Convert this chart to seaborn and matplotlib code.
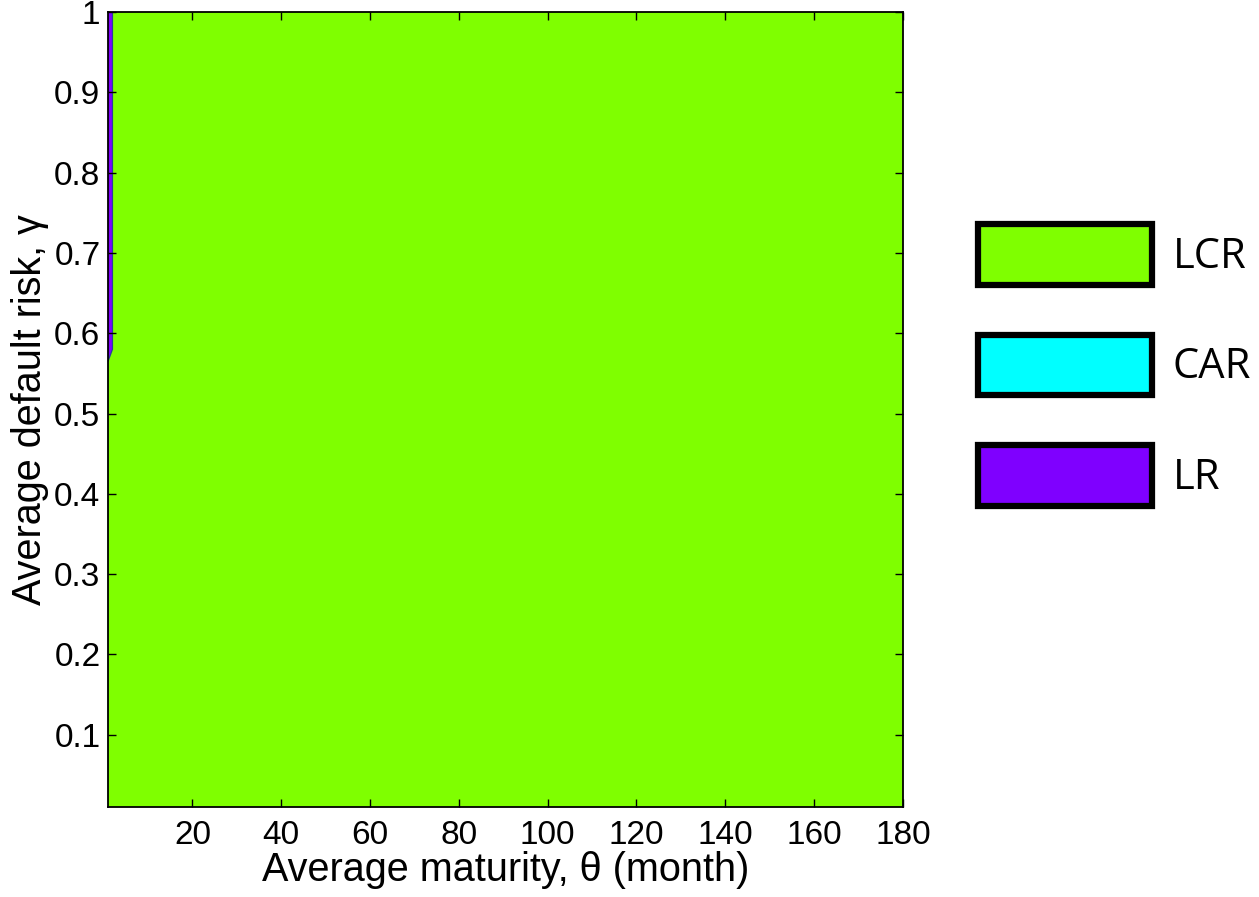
import numpy as np
import matplotlib
matplotlib.use("Agg")
import matplotlib.pyplot as plt
from matplotlib.patches import Patch
import seaborn as sns

# Regulatory constraint that binds, on a (maturity, default risk) grid
theta_months = [1, 3, 180]
gamma_risk = [0.01, 0.55, 0.58, 1.0]
# codes: 1 = CAR, 2 = LCR, 3 = LR   (rows follow gamma_risk, columns follow theta_months)
binding_regime = [
    [2, 2, 2],
    [2, 2, 2],
    [3, 2, 2],
    [3, 2, 2],
]

regime_names = ["LCR", "CAR", "LR"]
regime_colors = {"LCR": "#7FFF00", "CAR": "#00FFFF", "LR": "#7F00FF"}

x_ticks = [20, 40, 60, 80, 100, 120, 140, 160, 180]
y_ticks = [0.1, 0.2, 0.3, 0.4, 0.5, 0.6, 0.7, 0.8, 0.9, 1.0]
y_ticklabels = ["0.1", "0.2", "0.3", "0.4", "0.5", "0.6", "0.7", "0.8", "0.9", "1"]

sns.set_theme(style="white")
plt.rcParams["font.family"] = ["Liberation Sans", "DejaVu Sans"]
plt.rcParams["text.color"] = "black"
plt.rcParams["axes.labelcolor"] = "black"

fig = plt.figure(figsize=(12.59, 8.97), dpi=100)
ax = fig.add_axes([0.0858, 0.1003, 0.6314, 0.8863])

T, G = np.meshgrid(theta_months, gamma_risk)
Z = np.array(binding_regime, dtype=float)
levels = [0.5, 1.5, 2.5, 3.5]
fill_colors = [regime_colors["CAR"], regime_colors["LCR"], regime_colors["LR"]]
ax.contourf(T, G, Z, levels=levels, colors=fill_colors)
ax.contour(T, G, Z, levels=[1.5, 2.5], colors="#2a3aa0", linewidths=0.9)

ax.set_xlim(1, 180)
ax.set_ylim(0.01, 1.0)
ax.set_xticks(x_ticks)
ax.set_xticklabels([str(v) for v in x_ticks])
ax.set_yticks(y_ticks)
ax.set_yticklabels(y_ticklabels)
ax.tick_params(direction="in", length=6, width=1.0, colors="black",
               bottom=True, left=True, top=True, right=True, labelsize=24)
ax.tick_params(axis="x", pad=9)
ax.tick_params(axis="y", pad=5.5)
ax.set_axisbelow(False)
for side in ax.spines.values():
    side.set_color("black")
    side.set_linewidth(1.3)

ax.set_xlabel("Average maturity, θ (month)", fontsize=28.5, labelpad=0)
ax.set_ylabel("Average default risk, γ", fontsize=28.5, labelpad=4)

handles = [Patch(facecolor=regime_colors[n], edgecolor="black", linewidth=4.5)
           for n in regime_names]
fig.legend(handles, regime_names, loc="upper left",
           bbox_to_anchor=(0.7768, 0.7502), frameon=False,
           prop={"family": "Open Sans", "size": 30}, labelcolor="black",
           handlelength=4.18, handleheight=1.86, labelspacing=1.2,
           handletextpad=0.5, borderpad=0, borderaxespad=0)

fig.savefig("out.png", dpi=100)
